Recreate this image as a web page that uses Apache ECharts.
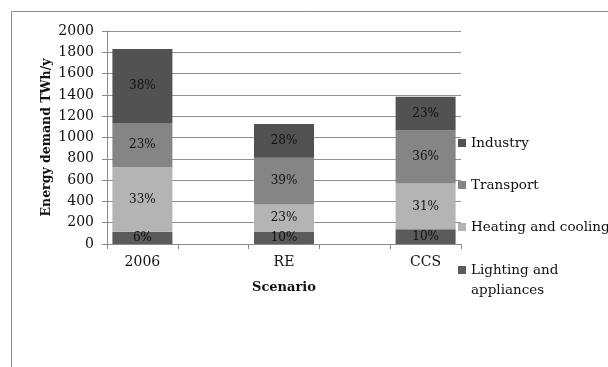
<!DOCTYPE html>
<html>
<head>
<meta charset="utf-8">
<script src="https://cdn.jsdelivr.net/npm/echarts@6/dist/echarts.min.js"></script>
<style>
  html, body { margin: 0; padding: 0; background: #fff; }
  #chart { width: 608px; height: 367px; }
</style>
</head>
<body>
<div id="chart"></div>
<script>
// Energy demand by end use for each scenario (TWh/y)
const scenarios = ['2006', 'RE', 'CCS'];
const lighting  = [115, 113, 138];
const heating   = [605, 258, 430];
const transport = [415, 440, 500];
const industry  = [695, 316, 315];
const yTicks = { min: 0, max: 2000, step: 200 };

// scenarios sit on every other slot, with empty spacer slots between them
const slots = [];
scenarios.forEach((s, i) => {
  if (i > 0) slots.push(' '.repeat(i));
  slots.push(s);
});
const spread = arr => {
  const out = [];
  arr.forEach((v, i) => {
    if (i > 0) out.push(null);
    out.push(v);
  });
  return out;
};
const totals = scenarios.map((_, i) => lighting[i] + heating[i] + transport[i] + industry[i]);

const FONT = 'DejaVu Serif';
const pctLabel = {
  show: true,
  position: 'inside',
  fontFamily: FONT,
  fontSize: 12,
  color: '#111',
  formatter: p => Math.round(p.value / totals[p.dataIndex / 2] * 100) + '%'
};

const mk = (name, data, color) => ({
  name,
  type: 'bar',
  stack: 'demand',
  barWidth: 60,
  data: spread(data),
  itemStyle: { color },
  label: pctLabel,
  emphasis: { disabled: true }
});

const chart = echarts.init(document.getElementById('chart'), null, { renderer: 'canvas' });
chart.setOption({
  animation: false,
  backgroundColor: '#fff',
  textStyle: { fontFamily: FONT },
  graphic: [{
    type: 'rect',
    shape: { x: 11.5, y: 11.5, width: 700, height: 500 },
    style: { fill: 'none', stroke: '#8a8a8a', lineWidth: 1 },
    silent: true
  }],
  grid: { left: 107, right: 147, top: 31, bottom: 123 },
  legend: [{
    orient: 'vertical',
    left: 458,
    top: 134,
    padding: 0,
    itemGap: 24,
    itemWidth: 8,
    itemHeight: 8,
    icon: 'rect',
    selectedMode: false,
    data: ['Industry', 'Transport', 'Heating and cooling'],
    textStyle: { fontFamily: FONT, fontSize: 13.5, color: '#111', lineHeight: 18 }
  }, {
    // leading blank line keeps the marker beside the first line of the wrapped name
    orient: 'vertical',
    left: 458,
    top: 240,
    padding: 0,
    itemWidth: 8,
    itemHeight: 8,
    icon: 'rect',
    selectedMode: false,
    data: ['Lighting and appliances'],
    formatter: n => '\n' + n.replace(' and ', ' and\n'),
    textStyle: { fontFamily: FONT, fontSize: 13.5, color: '#111', lineHeight: 20 }
  }],
  xAxis: {
    type: 'category',
    data: slots,
    name: 'Scenario',
    nameLocation: 'middle',
    nameGap: 37,
    nameMoveOverlap: false,
    nameTextStyle: { fontFamily: FONT, fontSize: 13, fontWeight: 'bold', color: '#111' },
    axisLine: { lineStyle: { color: '#8a8a8a' } },
    axisTick: { show: true, interval: 0, length: 5, lineStyle: { color: '#8a8a8a' } },
    axisLabel: { interval: 0, margin: 11, fontFamily: FONT, fontSize: 14, color: '#111' }
  },
  yAxis: {
    type: 'value',
    min: yTicks.min,
    max: yTicks.max,
    interval: yTicks.step,
    name: 'Energy demand TWh/y',
    nameLocation: 'middle',
    nameGap: 54,
    nameMoveOverlap: false,
    nameTextStyle: { fontFamily: FONT, fontSize: 12.5, fontWeight: 'bold', color: '#111' },
    axisLine: { show: true, lineStyle: { color: '#8a8a8a' } },
    axisTick: { show: true, length: 5, lineStyle: { color: '#8a8a8a' } },
    axisLabel: { margin: 13, fontFamily: FONT, fontSize: 14, color: '#111', formatter: v => String(v) },
    splitLine: { show: true, lineStyle: { color: '#909090', width: 1 } }
  },
  series: [
    mk('Lighting and appliances', lighting, '#5b5b5b'),
    mk('Heating and cooling', heating, '#b4b4b4'),
    mk('Transport', transport, '#858585'),
    mk('Industry', industry, '#525252')
  ]
});
</script>
</body>
</html>
